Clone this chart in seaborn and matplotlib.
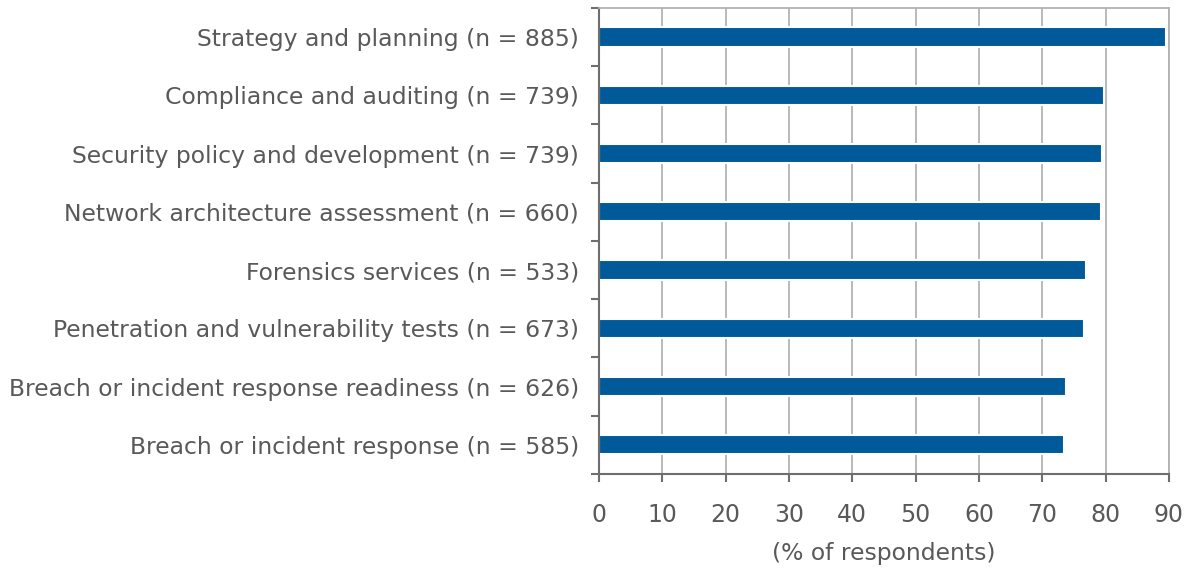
import numpy as np
import pandas as pd
import matplotlib
matplotlib.use('Agg')
import matplotlib.pyplot as plt
import seaborn as sns

# data
categories = ['Strategy and planning (n = 885)',
              'Compliance and auditing (n = 739)',
              'Security policy and development (n = 739)',
              'Network architecture assessment (n = 660)',
              'Forensics services (n = 533)',
              'Penetration and vulnerability tests (n = 673)',
              'Breach or incident response readiness (n = 626)',
              'Breach or incident response (n = 585)']
pct = [89.5, 79.7, 79.4, 79.2, 76.9, 76.6, 73.8, 73.5]
xticks = [0, 10, 20, 30, 40, 50, 60, 70, 80, 90]

df = pd.DataFrame({'cat': categories, 'pct': pct})

sns.set_style('white')
plt.rcParams['font.family'] = ['DejaVu Sans']

text_col = '#595959'
fig = plt.figure(figsize=(11.97, 5.69), dpi=100)
ax = fig.add_axes([0.5004, 0.167, 0.4762, 0.819])

sns.barplot(data=df, x='pct', y='cat', orient='h', color='#005a9a',
            width=0.33, edgecolor='white', linewidth=1.5, saturation=1, ax=ax)

ax.set_xlim(0, 90)
ax.set_ylim(len(categories) - 0.5, -0.5)
ax.set_xticks(xticks)
ax.set_xticklabels([str(t) for t in xticks], fontsize=17, color=text_col)
ax.set_yticks(range(len(categories)))
ax.set_yticklabels(categories, fontsize=16.9, color=text_col)
ax.set_yticks(np.arange(-0.5, len(categories)), minor=True)
ax.tick_params(axis='y', which='major', length=0, pad=14.5)
ax.tick_params(axis='y', which='minor', length=6, width=1.5, color='#6e6e6e', direction='out', left=True)
ax.tick_params(axis='x', length=6, width=1.5, color='#6e6e6e', direction='out', bottom=True, pad=15)

ax.xaxis.grid(True, color='#b3b3b3', linewidth=1.3)
ax.set_axisbelow(True)

for side in ['left', 'bottom']:
    ax.spines[side].set_color('#6e6e6e')
    ax.spines[side].set_linewidth(1.5)
for side in ['top', 'right']:
    ax.spines[side].set_color('#b3b3b3')
    ax.spines[side].set_linewidth(1.3)

ax.set_ylabel('')
ax.set_xlabel('(% of respondents)', fontsize=16.9, color=text_col, labelpad=11)

fig.savefig('out.png', dpi=100)
